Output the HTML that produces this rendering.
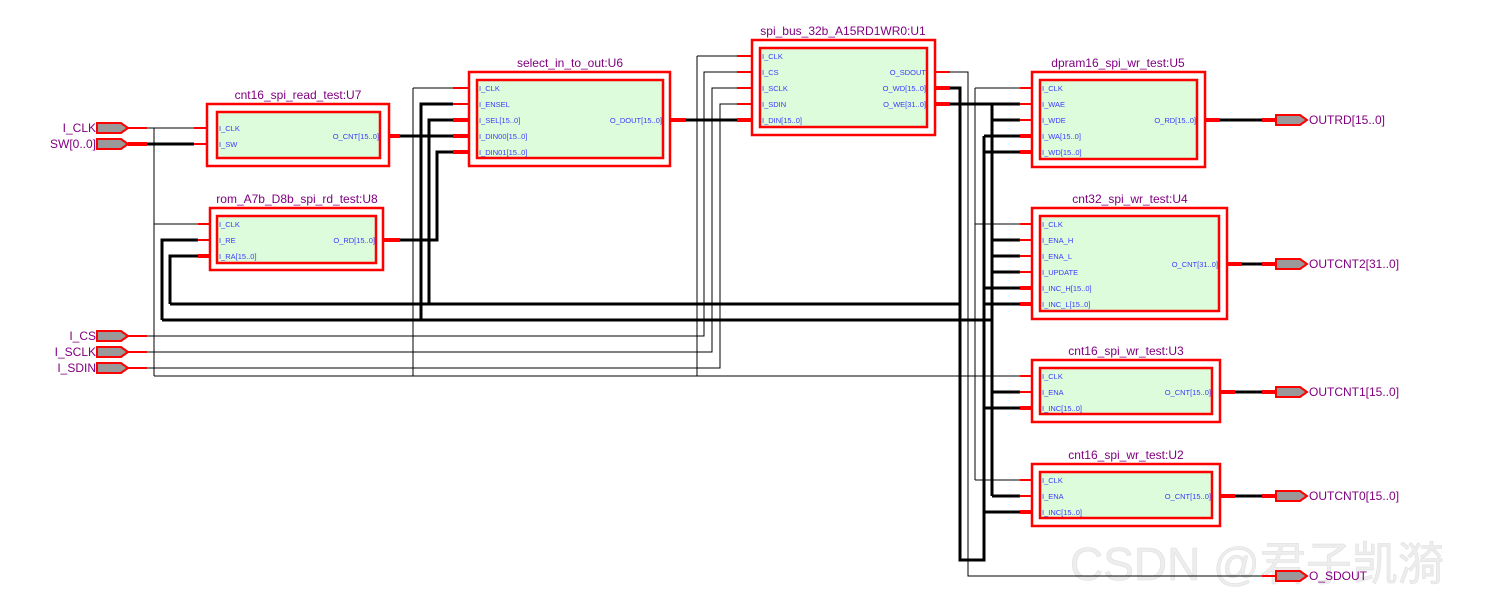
<!DOCTYPE html>
<html><head><meta charset="utf-8"><style>
html,body{margin:0;padding:0;background:#fff;}
svg{display:block;}
.t{font-family:"Liberation Sans",sans-serif;font-size:12px;fill:#800080;}
.p{font-family:"Liberation Sans",sans-serif;font-size:7.5px;fill:#3a3aff;}
.k{stroke:#000;stroke-width:1;fill:none;}
.K{stroke:#000;stroke-width:3;fill:none;}
.r{stroke:#f00;stroke-width:2;fill:none;}
.R{stroke:#f00;stroke-width:4;fill:none;}
.ob{fill:#fff;stroke:#f00;stroke-width:2.5;}
.ib{fill:#dcfcdc;stroke:#f00;stroke-width:2.5;}
.pin{fill:#999;stroke:#f00;stroke-width:2;}
</style></head><body>
<svg width="1510" height="600" xmlns="http://www.w3.org/2000/svg">
<text x="1070" y="580" style="font-family:'Liberation Sans','Noto Sans CJK SC',sans-serif;font-size:46px;fill:#ededed;stroke:#e0e0e0;stroke-width:0.6">CSDN @君子凯漪</text>

<!-- thin clock wires -->
<path class="k" d="M147,128H194 M154,128V376 M154,224H198 M154,376H1020 M413,88V376 M413,88H453 M697,56V376 M697,56H737 M975,88V480 M975,88H1020 M975,224H1020 M975,480H1020"/>
<!-- CS/SCLK/SDIN -->
<path class="k" d="M147,336H704V72H737 M147,352H712V88H737 M147,368H720V104H737"/>
<!-- SDOUT -->
<path class="k" d="M950,72H968V576H1262"/>
<!-- thick wires -->
<path class="K" d="M147,144H194 M400,136H453 M400,240H437V152H453 M421,320V104H453 M429,304V120H453 M162,320V240H198 M170,304V256H198 M170,304H960 M162,320H992 M686,120H737"/>
<path class="K" d="M950,88H960V560H984V136 M950,104H1020 M992,104V496 M992,120H1020 M984,136H1020 M984,152H1020 M992,240H1020 M992,256H1020 M992,272H1020 M984,288H1020 M984,304H1020 M992,392H1020 M984,408H1020 M992,496H1020 M984,512H1020"/>
<path class="K" d="M1220,120H1262 M1242,264H1262 M1235,392H1262 M1235,496H1262"/>

<!-- red stubs -->
<path class="r" d="M128,128H147 M194,128H206 M194,144H206 M198,224H210 M198,240H210 M453,88H469 M453,104H469 M737,56H752 M737,72H752 M737,88H752 M737,104H752 M128,336H147 M128,352H147 M128,368H147 M935,72H950 M1020,88H1032 M1020,104H1032 M1020,120H1032 M1020,224H1032 M1020,240H1032 M1020,256H1032 M1020,272H1032 M1020,376H1032 M1020,392H1032 M1020,480H1032 M1020,496H1032 M1262,576H1275"/>
<path class="R" d="M128,144H147 M390,136H400 M383,240H400 M198,256H210 M453,120H469 M453,136H469 M453,152H469 M670,120H686 M737,120H752 M935,88H950 M935,104H950 M1020,136H1032 M1020,152H1032 M1020,288H1032 M1020,304H1032 M1020,408H1032 M1020,512H1032 M1205,120H1220 M1262,120H1275 M1227,264H1242 M1262,264H1275 M1220,392H1235 M1262,392H1275 M1220,496H1235 M1262,496H1275"/>

<!-- input pins -->
<g class="pin">
<polygon points="97,123 121,123 128,128 121,133 97,133"/>
<polygon points="97,139 121,139 128,144 121,149 97,149"/>
<polygon points="97,331 121,331 128,336 121,341 97,341"/>
<polygon points="97,347 121,347 128,352 121,357 97,357"/>
<polygon points="97,363 121,363 128,368 121,373 97,373"/>
<polygon points="1276,115 1300,115 1307,120 1300,125 1276,125"/>
<polygon points="1276,259 1300,259 1307,264 1300,269 1276,269"/>
<polygon points="1276,387 1300,387 1307,392 1300,397 1276,397"/>
<polygon points="1276,491 1300,491 1307,496 1300,501 1276,501"/>
<polygon points="1276,571 1300,571 1307,576 1300,581 1276,581"/>
</g>
<g class="t" text-anchor="end">
<text x="96" y="132">I_CLK</text><text x="96" y="148">SW[0..0]</text>
<text x="96" y="340">I_CS</text><text x="96" y="356">I_SCLK</text><text x="96" y="372">I_SDIN</text>
</g>
<g class="t">
<text x="1309" y="124">OUTRD[15..0]</text>
<text x="1309" y="268">OUTCNT2[31..0]</text>
<text x="1309" y="396">OUTCNT1[15..0]</text>
<text x="1309" y="500">OUTCNT0[15..0]</text>
<text x="1309" y="580">O_SDOUT</text>
</g>

<!-- U7 -->
<rect class="ob" x="207" y="104" width="182" height="62"/><rect class="ib" x="217" y="112" width="163" height="46"/>
<text class="t" x="298" y="99" text-anchor="middle">cnt16_spi_read_test:U7</text>
<g class="p"><text x="219" y="131">I_CLK</text><text x="219" y="147">I_SW</text><text x="379" y="139" text-anchor="end">O_CNT[15..0]</text></g>
<!-- U8 -->
<rect class="ob" x="210" y="208" width="173" height="62"/><rect class="ib" x="217" y="216" width="159" height="47"/>
<text class="t" x="297" y="203" text-anchor="middle">rom_A7b_D8b_spi_rd_test:U8</text>
<g class="p"><text x="219" y="227">I_CLK</text><text x="219" y="243">I_RE</text><text x="219" y="259">I_RA[15..0]</text><text x="375" y="243" text-anchor="end">O_RD[15..0]</text></g>
<!-- U6 -->
<rect class="ob" x="469" y="72" width="201" height="94"/><rect class="ib" x="477" y="80" width="186" height="78"/>
<text class="t" x="570" y="67" text-anchor="middle">select_in_to_out:U6</text>
<g class="p"><text x="479" y="91">I_CLK</text><text x="479" y="107">I_ENSEL</text><text x="479" y="123">I_SEL[15..0]</text><text x="479" y="139">I_DIN00[15..0]</text><text x="479" y="155">I_DIN01[15..0]</text><text x="662" y="123" text-anchor="end">O_DOUT[15..0]</text></g>
<!-- U1 -->
<rect class="ob" x="752" y="40" width="183" height="95"/><rect class="ib" x="760" y="48" width="167" height="79"/>
<text class="t" x="843" y="35" text-anchor="middle">spi_bus_32b_A15RD1WR0:U1</text>
<g class="p"><text x="762" y="59">I_CLK</text><text x="762" y="75">I_CS</text><text x="762" y="91">I_SCLK</text><text x="762" y="107">I_SDIN</text><text x="762" y="123">I_DIN[15..0]</text>
<text x="926" y="75" text-anchor="end">O_SDOUT</text><text x="926" y="91" text-anchor="end">O_WD[15..0]</text><text x="926" y="107" text-anchor="end">O_WE[31..0]</text></g>
<!-- U5 -->
<rect class="ob" x="1032" y="72" width="173" height="95"/><rect class="ib" x="1040" y="80" width="157" height="79"/>
<text class="t" x="1118" y="67" text-anchor="middle">dpram16_spi_wr_test:U5</text>
<g class="p"><text x="1042" y="91">I_CLK</text><text x="1042" y="107">I_WAE</text><text x="1042" y="123">I_WDE</text><text x="1042" y="139">I_WA[15..0]</text><text x="1042" y="155">I_WD[15..0]</text><text x="1196" y="123" text-anchor="end">O_RD[15..0]</text></g>
<!-- U4 -->
<rect class="ob" x="1032" y="208" width="195" height="111"/><rect class="ib" x="1040" y="216" width="179" height="95"/>
<text class="t" x="1130" y="203" text-anchor="middle">cnt32_spi_wr_test:U4</text>
<g class="p"><text x="1042" y="227">I_CLK</text><text x="1042" y="243">I_ENA_H</text><text x="1042" y="259">I_ENA_L</text><text x="1042" y="275">I_UPDATE</text><text x="1042" y="291">I_INC_H[15..0]</text><text x="1042" y="307">I_INC_L[15..0]</text><text x="1218" y="267" text-anchor="end">O_CNT[31..0]</text></g>
<!-- U3 -->
<rect class="ob" x="1032" y="360" width="188" height="62"/><rect class="ib" x="1040" y="368" width="172" height="46"/>
<text class="t" x="1126" y="355" text-anchor="middle">cnt16_spi_wr_test:U3</text>
<g class="p"><text x="1042" y="379">I_CLK</text><text x="1042" y="395">I_ENA</text><text x="1042" y="411">I_INC[15..0]</text><text x="1211" y="395" text-anchor="end">O_CNT[15..0]</text></g>
<!-- U2 -->
<rect class="ob" x="1032" y="464" width="188" height="62"/><rect class="ib" x="1040" y="472" width="172" height="46"/>
<text class="t" x="1126" y="459" text-anchor="middle">cnt16_spi_wr_test:U2</text>
<g class="p"><text x="1042" y="483">I_CLK</text><text x="1042" y="499">I_ENA</text><text x="1042" y="515">I_INC[15..0]</text><text x="1211" y="499" text-anchor="end">O_CNT[15..0]</text></g>
</svg>
</body></html>
